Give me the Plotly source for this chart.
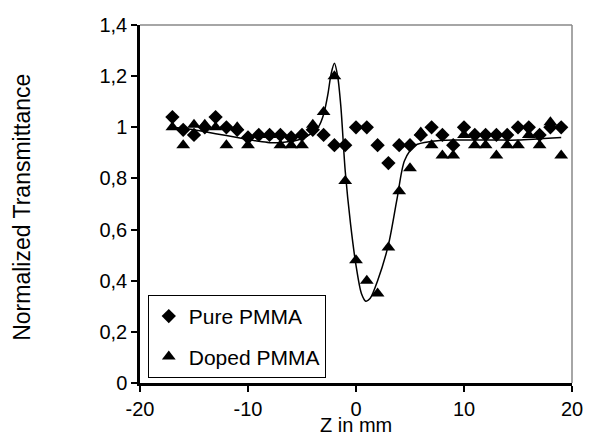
import plotly.graph_objects as go

# ---- data ----
z_mm = [-17, -16, -15, -14, -13, -12, -11, -10, -9, -8, -7, -6, -5, -4, -3, -2, -1,
        0, 1, 2, 3, 4, 5, 6, 7, 8, 9, 10, 11, 12, 13, 14, 15, 16, 17, 18, 19]

pure_pmma = [1.04, 0.99, 0.97, 1.00, 1.04, 1.00, 0.99, 0.96, 0.97, 0.97, 0.97, 0.96, 0.97,
             0.99, 0.97, 0.93, 0.93, 1.00, 1.00, 0.93, 0.86, 0.93, 0.93, 0.97, 1.00, 0.97,
             0.93, 1.00, 0.97, 0.97, 0.97, 0.97, 1.00, 1.00, 0.97, 1.00, 1.00]

doped_pmma = [1.00, 0.93, 1.01, 1.01, 1.00, 0.93, 1.00, 0.93, 0.97, 0.97, 0.93, 0.93, 0.93,
              1.01, 1.06, 1.20, 0.79, 0.48, 0.40, 0.35, 0.53, 0.75, 0.84, 0.98, 0.93, 0.89,
              0.89, 0.97, 0.93, 0.93, 0.89, 0.93, 0.93, 0.97, 0.93, 1.02, 0.89]

fit_z = [-17, -15, -13, -11, -9, -8, -7, -6, -5, -4, -3.5, -3, -2.6, -2.3, -2.0, -1.7,
         -1.4, -1.0, -0.5, 0, 0.5, 0.9, 1.3, 2, 3, 3.8, 4.5, 5.5, 7, 9, 11, 13, 15, 17, 19]
fit_t = [1.00, 0.99, 0.975, 0.96, 0.945, 0.94, 0.94, 0.945, 0.955, 0.98, 1.00, 1.05, 1.13,
         1.21, 1.25, 1.20, 1.08, 0.83, 0.62, 0.46, 0.35, 0.32, 0.33, 0.40, 0.54, 0.72, 0.87,
         0.93, 0.945, 0.95, 0.95, 0.95, 0.95, 0.955, 0.96]

x_tickvals = [-20, -10, 0, 10, 20]
x_ticktext = ["-20", "-10", "0", "10", "20"]
y_tickvals = [0, 0.2, 0.4, 0.6, 0.8, 1.0, 1.2, 1.4]
y_ticktext = ["0", "0,2", "0,4", "0,6", "0,8", "1", "1,2", "1,4"]

FONT = "Liberation Sans, Arial, sans-serif"

fig = go.Figure()

fig.add_trace(go.Scatter(
    x=fit_z, y=fit_t, mode="lines", line=dict(color="black", width=1.5, shape="spline", smoothing=0.8),
    showlegend=False, hoverinfo="skip"))

fig.add_trace(go.Scatter(
    x=z_mm, y=pure_pmma, mode="markers", name="Pure PMMA", legendgroup="a",
    marker=dict(symbol="diamond", size=11, color="black", line=dict(width=0))))

fig.add_trace(go.Scatter(
    x=z_mm, y=doped_pmma, mode="markers", name="Doped PMMA", legendgroup="b",
    marker=dict(symbol="triangle-up", size=12, color="black", line=dict(width=0))))

fig.update_layout(
    width=595, height=436,
    margin=dict(l=140, r=15, t=25, b=53),
    paper_bgcolor="white", plot_bgcolor="white",
    font=dict(family=FONT, size=20, color="black"),
    showlegend=True,
    legend=dict(
        x=0.018, y=0.246, xanchor="left", yanchor="top",
        bordercolor="black", borderwidth=1, bgcolor="white",
        font=dict(family=FONT, size=21, color="black"),
        tracegroupgap=10, traceorder="grouped",
    ),
    xaxis=dict(
        range=[-20, 20], tickvals=x_tickvals, ticktext=x_ticktext,
        showgrid=False, zeroline=False,
        showline=True, linecolor="black", linewidth=2.5,
        ticks="outside", ticklen=6, tickwidth=1.5, tickcolor="black",
        tickfont=dict(family=FONT, size=20),
    ),
    yaxis=dict(
        range=[0, 1.4], tickvals=y_tickvals, ticktext=y_ticktext,
        showgrid=False, zeroline=False,
        showline=True, linecolor="black", linewidth=2.5,
        ticks="outside", ticklen=6, tickwidth=1.5, tickcolor="black",
        tickfont=dict(family=FONT, size=20),
    ),
    shapes=[
        dict(type="line", xref="paper", yref="paper", x0=0, x1=1, y0=1, y1=1,
             line=dict(color="#888888", width=1.5)),
        dict(type="line", xref="paper", yref="paper", x0=1, x1=1, y0=0, y1=1,
             line=dict(color="#888888", width=1.5)),
    ],
    annotations=[
        dict(text="Z in mm", xref="paper", yref="paper", x=0.5, y=-0.117,
             xanchor="center", yanchor="middle", showarrow=False,
             font=dict(family=FONT, size=20)),
        dict(text="Normalized Transmittance", xref="paper", yref="paper", x=-0.275, y=0.49,
             xanchor="center", yanchor="middle", textangle=-90, showarrow=False,
             font=dict(family=FONT, size=23)),
    ],
)

fig.write_html(
    "out.html",
    config={"displayModeBar": False},
    post_script="document.body.style.margin='0';document.body.style.overflow='hidden';",
)
